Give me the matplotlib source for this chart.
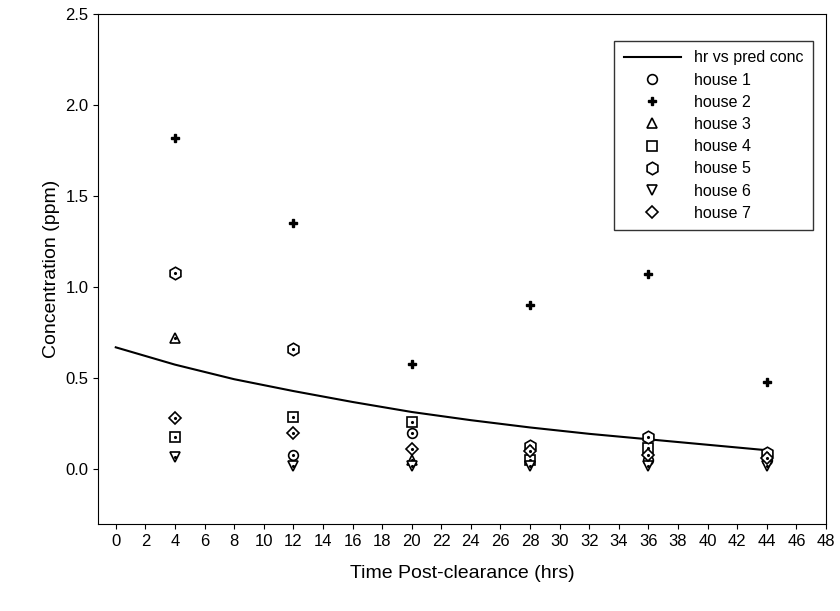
import matplotlib.pyplot as plt
import numpy as np

plt.rcParams['font.family'] = ['Liberation Sans', 'DejaVu Sans']

hrs = [4, 12, 20, 28, 36, 44]
pred_x = [0, 4, 8, 12, 16, 20, 24, 28, 32, 36, 40, 44]
pred_y = [0.67, 0.575, 0.495, 0.43, 0.37, 0.315, 0.27, 0.23, 0.195, 0.165, 0.135, 0.105]

house1 = [None, 0.08, 0.20, None, 0.05, 0.05]
house2 = [1.82, 1.35, 0.58, 0.90, 1.07, 0.48]
house3 = [0.72, None, 0.05, 0.07, None, None]
house4 = [0.18, 0.29, 0.26, 0.05, 0.12, None]
house5 = [1.08, 0.66, None, 0.13, 0.18, 0.09]
house6 = [0.07, 0.02, 0.02, 0.02, 0.02, 0.02]
house7 = [0.28, 0.20, 0.11, 0.10, 0.08, 0.06]

fig = plt.figure(figsize=(8.4, 6.11), dpi=100)
ax = fig.add_axes([98/840, 1-524/611, 728/840, 510/611])
ax.plot(pred_x, pred_y, color='black', lw=1.5, label='hr vs pred conc')

def pts(vals):
    xs = [h for h, v in zip(hrs, vals) if v is not None]
    ys = [v for v in vals if v is not None]
    return xs, ys

series = [(house1, 'o', 'house 1', 7), (house2, 'P', 'house 2', 6), (house3, '^', 'house 3', 7),
          (house4, 's', 'house 4', 7), (house5, 'h', 'house 5', 9), (house6, 'v', 'house 6', 7),
          (house7, 'D', 'house 7', 6)]
for vals, m, lab, size in series:
    xs, ys = pts(vals)
    if m == 'P':
        ax.plot(xs, ys, ls='none', marker=m, ms=size, color='black', label=lab)
    else:
        ax.plot(xs, ys, ls='none', marker=m, ms=size, mfc='white',
                mec='black', mew=1.2, label=lab)
        ax.plot(xs, ys, ls='none', marker='.', ms=2.5, color='black')

ax.set_xlim(-1.2, 48)
ax.set_ylim(-0.3, 2.5)
ax.set_xticks(np.arange(0, 49, 2))
ax.set_yticks(np.arange(0, 2.51, 0.5))
ax.set_yticklabels([f'{v:.1f}' for v in np.arange(0, 2.51, 0.5)])
ax.tick_params(direction='out', labelsize=12)
ax.set_xlabel('Time Post-clearance (hrs)', fontsize=14, labelpad=12)
ax.set_ylabel('Concentration (ppm)', fontsize=14)
ax.legend(loc='upper right', bbox_to_anchor=(0.993, 0.963), fancybox=False,
          edgecolor='black', fontsize=11.5, handlelength=3.6, labelspacing=0.45,
          borderpad=0.6)
fig.savefig('out.png')
